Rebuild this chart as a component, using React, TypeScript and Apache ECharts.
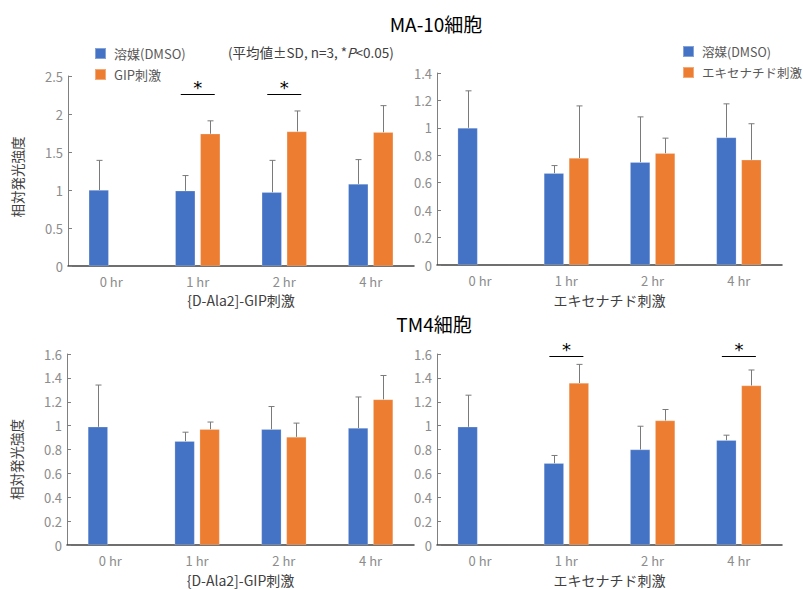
import React, { useEffect, useRef } from "react";
import * as echarts from "echarts";

// Time points after stimulation
const categories = ["0 hr", "1 hr", "2 hr", "4 hr"];

// MA-10 cells, [D-Ala2]-GIP stimulation (mean, SD)
const ma10GipVehicle = [1.0, 0.99, 0.97, 1.08];
const ma10GipVehicleSD = [0.39, 0.2, 0.42, 0.32];
const ma10GipStim = [null, 1.74, 1.77, 1.76];
const ma10GipStimSD = [null, 0.17, 0.27, 0.35];

// MA-10 cells, exenatide stimulation
const ma10ExVehicle = [1.0, 0.67, 0.75, 0.93];
const ma10ExVehicleSD = [0.27, 0.055, 0.33, 0.245];
const ma10ExStim = [null, 0.78, 0.815, 0.767];
const ma10ExStimSD = [null, 0.38, 0.11, 0.263];

// TM4 cells, [D-Ala2]-GIP stimulation
const tm4GipVehicle = [0.99, 0.87, 0.97, 0.98];
const tm4GipVehicleSD = [0.35, 0.075, 0.19, 0.26];
const tm4GipStim = [null, 0.97, 0.906, 1.22];
const tm4GipStimSD = [null, 0.06, 0.115, 0.2];

// TM4 cells, exenatide stimulation
const tm4ExVehicle = [0.99, 0.685, 0.8, 0.878];
const tm4ExVehicleSD = [0.265, 0.065, 0.195, 0.042];
const tm4ExStim = [null, 1.357, 1.043, 1.336];
const tm4ExStimSD = [null, 0.156, 0.092, 0.13];

// Time points with P < 0.05
const ma10GipSignificant = [1, 2];
const tm4ExSignificant = [1, 3];

const VEHICLE = "溶媒(DMSO)";
const GIP = "GIP刺激";
const EXENATIDE = "エキセナチド刺激";
const Y_NAME = "相対発光強度";
const GIP_AXIS = "{D-Ala2]-GIP刺激";
const EX_AXIS = "エキセナチド刺激";

const BLUE = "#4472c4";
const ORANGE = "#ed7d31";
const FONT = "'Noto Sans CJK JP', 'Noto Sans', sans-serif";
const BAR_W = 20;
const BAR_GAP = 5;

function errorData(mean: (number | null)[], sd: (number | null)[]) {
  const out: number[][] = [];
  mean.forEach((m, i) => {
    if (m != null && sd[i] != null) out.push([i, m, sd[i] as number]);
  });
  return out;
}

function errorSeries(idx: number, mean: (number | null)[], sd: (number | null)[], side: number) {
  return {
    type: "custom",
    xAxisIndex: idx,
    yAxisIndex: idx,
    silent: true,
    clip: false,
    z: 5,
    data: errorData(mean, sd),
    renderItem: (_p: any, api: any) => {
      const i = api.value(0);
      const m = api.value(1);
      const s = api.value(2);
      const off = (side * (BAR_W + BAR_GAP)) / 2;
      const a = api.coord([i, m]);
      const b = api.coord([i, m + s]);
      const x = Math.round(a[0] + off) + 0.5;
      const style = { stroke: "#7a7a7a", lineWidth: 1 };
      return {
        type: "group",
        children: [
          { type: "line", shape: { x1: x, y1: a[1], x2: x, y2: b[1] }, style },
          { type: "line", shape: { x1: x - 3, y1: b[1], x2: x + 3, y2: b[1] }, style },
        ],
      };
    },
  };
}

function sigSeries(idx: number, cats: number[], level: number) {
  return {
    type: "custom",
    xAxisIndex: idx,
    yAxisIndex: idx,
    silent: true,
    clip: false,
    z: 6,
    data: cats.map((c) => [c, level]),
    renderItem: (_p: any, api: any) => {
      const p = api.coord([api.value(0), api.value(1)]);
      const y = Math.round(p[1]) + 0.5;
      return {
        type: "group",
        children: [
          {
            type: "line",
            shape: { x1: p[0] - 17, y1: y, x2: p[0] + 17, y2: y },
            style: { stroke: "#000", lineWidth: 1.2 },
          },
          {
            type: "text",
            style: {
              x: p[0],
              y: y - 7,
              text: "*",
              fill: "#000",
              fontSize: 18,
              fontFamily: "'DejaVu Sans', sans-serif",
              align: "center",
              verticalAlign: "middle",
            },
          },
        ],
      };
    },
  };
}

function barSeries(idx: number, name: string, color: string, data: (number | null)[]) {
  return {
    type: "bar",
    name,
    xAxisIndex: idx,
    yAxisIndex: idx,
    barWidth: BAR_W,
    barGap: (BAR_GAP / BAR_W) * 100 + "%",
    itemStyle: { color, borderColor: "rgba(255,255,255,0.35)", borderWidth: 0.6 },
    data,
  };
}

function xAxis(idx: number, name: string, nameGap: number) {
  return {
    type: "category",
    gridIndex: idx,
    data: categories,
    name,
    nameLocation: "middle",
    nameGap,
    nameTextStyle: { fontSize: 14, color: "#404040", fontFamily: FONT },
    axisLine: { lineStyle: { color: "#404040", width: 1.5 } },
    axisTick: { show: false },
    axisLabel: { color: "#8c8c8c", fontSize: 13, margin: 9, fontFamily: FONT },
  };
}

function yAxis(idx: number, max: number, interval: number, withName: boolean, shift: number) {
  return {
    type: "value",
    gridIndex: idx,
    min: 0,
    max,
    interval,
    name: withName ? Y_NAME : "",
    nameLocation: "middle",
    nameGap: 44,
    nameTextStyle: {
      fontSize: 13.5,
      color: "#404040",
      fontFamily: FONT,
      padding: [0, shift, 0, 0],
    },
    axisLine: { show: true, lineStyle: { color: "#808080", width: 1 } },
    axisTick: { show: true, inside: true, length: 4, lineStyle: { color: "#808080" } },
    axisLabel: { color: "#8c8c8c", fontSize: 13, margin: 5, fontFamily: FONT },
    splitLine: { show: false },
  };
}

export default function App() {
  const ref = useRef<HTMLDivElement>(null);

  useEffect(() => {
    if (!ref.current) return;
    const chart = echarts.init(ref.current, undefined, { renderer: "svg" });
    const legendText = { fontSize: 13, color: "#595959", fontFamily: FONT, padding: [0, 0, 0, 3] };
    chart.setOption({
      animation: false,
      backgroundColor: "#ffffff",
      textStyle: { fontFamily: FONT },
      title: [
        {
          text: "MA-10細胞",
          left: 431,
          top: 9,
          textAlign: "center",
          textStyle: { fontSize: 19, fontWeight: "normal", color: "#000", fontFamily: FONT },
        },
        {
          text: "TM4細胞",
          left: 429,
          top: 309,
          textAlign: "center",
          textStyle: { fontSize: 19, fontWeight: "normal", color: "#000", fontFamily: FONT },
        },
      ],
      legend: [
        {
          orient: "vertical",
          left: 89,
          top: 42,
          itemWidth: 11,
          itemHeight: 11,
          itemGap: 8,
          icon: "rect",
          data: [VEHICLE, GIP],
          textStyle: legendText,
        },
        {
          orient: "vertical",
          left: 677,
          top: 40,
          itemWidth: 11,
          itemHeight: 11,
          itemGap: 8,
          icon: "rect",
          data: [VEHICLE, EXENATIDE],
          textStyle: { ...legendText, fontSize: 12.5 },
        },
      ],
      graphic: [
        {
          type: "text",
          left: 228,
          top: 45,
          style: {
            text: "{a|(平均値±SD, n=3, *}{b|P}{a|<0.05)}",
            rich: {
              a: { fontSize: 13.5, fill: "#404040", fontFamily: FONT },
              b: { fontSize: 13.5, fill: "#404040", fontFamily: FONT, fontStyle: "italic" },
            },
          },
        },
      ],
      grid: [
        { left: 68, top: 76, width: 346, height: 190 },
        { left: 437, top: 73, width: 345, height: 192 },
        { left: 67, top: 354, width: 347, height: 191 },
        { left: 437, top: 354, width: 345, height: 191 },
      ],
      xAxis: [
        xAxis(0, GIP_AXIS, 27),
        xAxis(1, EX_AXIS, 28),
        xAxis(2, GIP_AXIS, 28),
        xAxis(3, EX_AXIS, 28),
      ],
      yAxis: [
        yAxis(0, 2.5, 0.5, true, 12),
        yAxis(1, 1.4, 0.2, false, 0),
        yAxis(2, 1.6, 0.2, true, 20),
        yAxis(3, 1.6, 0.2, false, 0),
      ],
      series: [
        barSeries(0, VEHICLE, BLUE, ma10GipVehicle),
        barSeries(0, GIP, ORANGE, ma10GipStim),
        errorSeries(0, ma10GipVehicle, ma10GipVehicleSD, -1),
        errorSeries(0, ma10GipStim, ma10GipStimSD, 1),
        sigSeries(0, ma10GipSignificant, 2.26),

        barSeries(1, VEHICLE, BLUE, ma10ExVehicle),
        barSeries(1, EXENATIDE, ORANGE, ma10ExStim),
        errorSeries(1, ma10ExVehicle, ma10ExVehicleSD, -1),
        errorSeries(1, ma10ExStim, ma10ExStimSD, 1),

        barSeries(2, VEHICLE, BLUE, tm4GipVehicle),
        barSeries(2, GIP, ORANGE, tm4GipStim),
        errorSeries(2, tm4GipVehicle, tm4GipVehicleSD, -1),
        errorSeries(2, tm4GipStim, tm4GipStimSD, 1),

        barSeries(3, VEHICLE, BLUE, tm4ExVehicle),
        barSeries(3, EXENATIDE, ORANGE, tm4ExStim),
        errorSeries(3, tm4ExVehicle, tm4ExVehicleSD, -1),
        errorSeries(3, tm4ExStim, tm4ExStimSD, 1),
        sigSeries(3, tm4ExSignificant, 1.585),
      ],
    });
    return () => chart.dispose();
  }, []);

  return (
    <div
      ref={ref}
      style={{ position: "fixed", left: 0, top: 0, width: 803, height: 589, background: "#fff" }}
    />
  );
}
